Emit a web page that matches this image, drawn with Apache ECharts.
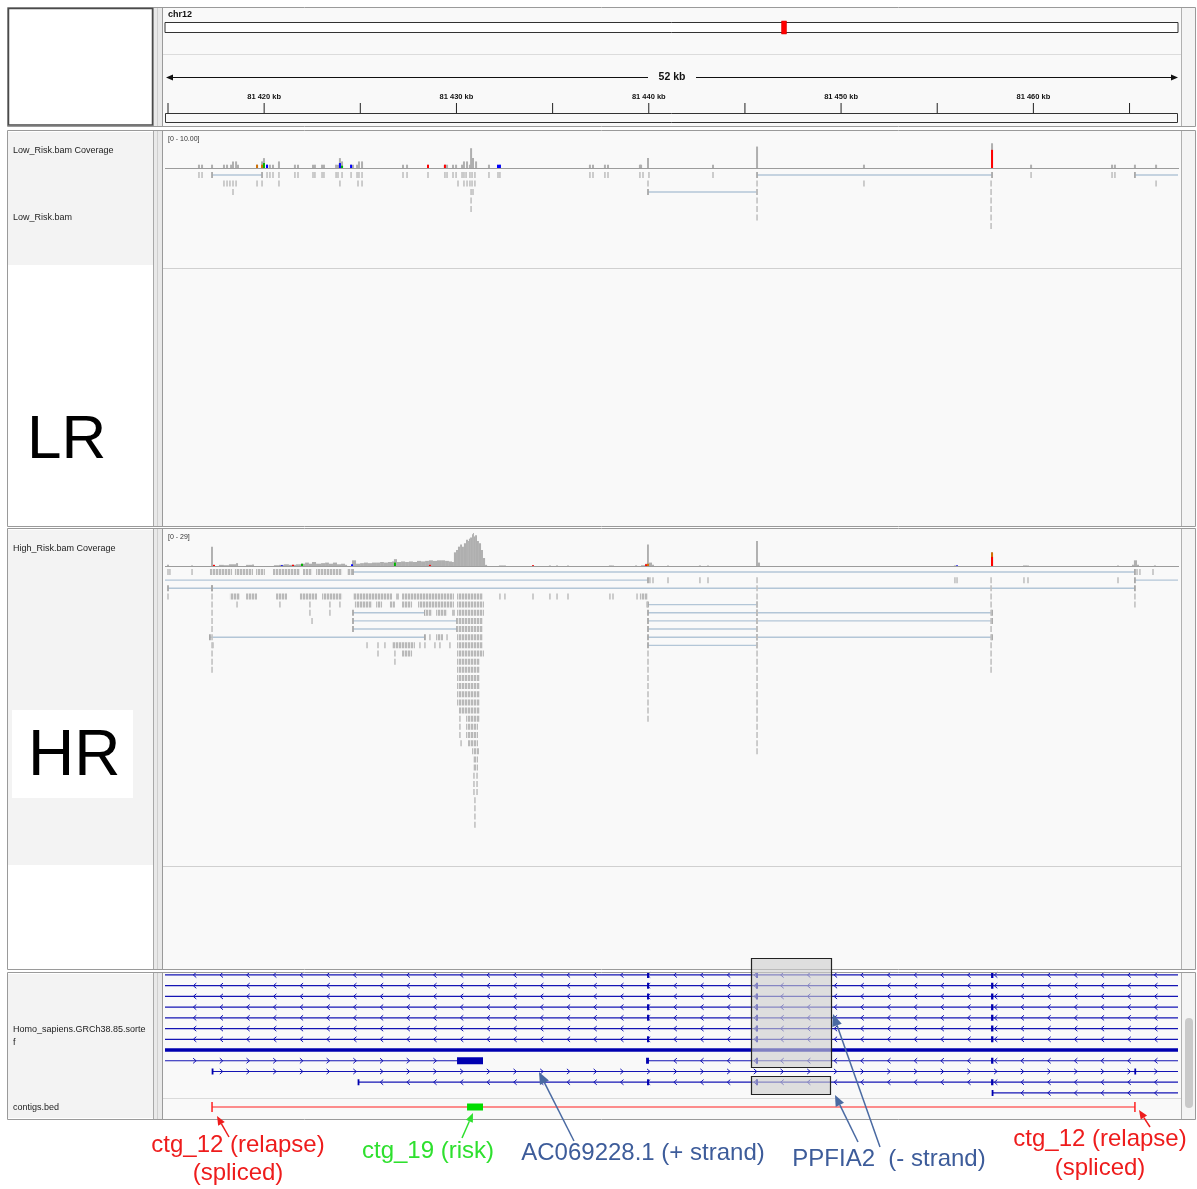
<!DOCTYPE html>
<html><head><meta charset="utf-8">
<script src="https://cdn.jsdelivr.net/npm/echarts@6/dist/echarts.min.js"></script>
<style>html,body{margin:0;padding:0;background:#fff}#c{width:1197px;height:1189px}</style>
</head><body><div id="c"></div><script>
// ---------------- DATA (genomic positions in kb, chr12) ----------------
var X_MIN = 81414.844, X_MAX = 81467.52, CHR_LEN = 133275;
var chrBounds = [[0, CHR_LEN]];
var currentView = [[X_MIN, X_MAX]];
var rulerTicks = [81415,81420,81425,81430,81435,81440,81445,81450,81455,81460,81465];
var rulerLabels = ['','81 420 kb','','81 430 kb','','81 440 kb','','81 450 kb','','81 460 kb',''];
var spanLabel = '52 kb';

// Low risk coverage [kb, depth]
var lrCoverage = [[81416.61,1],[81416.77,1],[81417.29,1],[81417.91,1],[81418.07,1],[81418.28,1],[81418.38,2],[81418.54,2],[81418.64,1],[81419.63,1],[81419.89,2],[81419.99,3],[81420.15,1],[81420.30,1],[81420.46,1],[81420.77,2],[81421.60,1],[81421.76,1],[81422.54,1],[81422.64,1],[81423.01,1],[81423.11,1],[81423.74,1],[81423.84,1],[81423.94,3],[81424.05,2],[81424.52,1],[81424.62,1],[81424.83,1],[81424.93,2],[81425.09,2],[81427.22,1],[81427.43,1],[81428.52,1],[81429.40,1],[81429.51,1],[81429.82,1],[81429.98,1],[81430.29,1],[81430.39,2],[81430.55,2],[81430.70,1],[81430.76,6],[81430.86,3],[81431.02,2],[81431.69,1],[81432.16,1],[81432.26,1],[81436.94,1],[81437.10,1],[81437.72,1],[81437.88,1],[81439.54,1],[81439.60,1],[81439.96,3],[81443.34,1],[81445.63,6.5],[81451.19,1],[81457.85,7.5],[81459.88,1],[81464.09,1],[81464.24,1],[81465.28,1],[81466.38,1]];
// mismatch [kb, depth, base 0=A 1=C 2=G 3=T]
var lrMismatch = [[81419.63,1,2],[81419.89,1,2],[81419.99,1.5,0],[81420.15,1,1],[81423.94,1.5,1],[81424.05,0.7,0],[81424.52,1,1],[81428.52,1,3],[81429.40,1,3],[81432.16,1,1],[81432.26,1,1],[81457.85,5.5,3]];
// single reads [kb, row]
var lrPoints = [[81416.61,0],[81416.77,0],[81420.15,0],[81420.30,0],[81420.46,0],[81420.77,0],[81421.60,0],[81421.76,0],[81422.54,0],[81422.64,0],[81423.01,0],[81423.11,0],[81423.74,0],[81423.84,0],[81424.05,0],[81424.52,0],[81424.83,0],[81424.93,0],[81425.09,0],[81427.22,0],[81427.43,0],[81428.52,0],[81429.40,0],[81429.51,0],[81429.82,0],[81429.98,0],[81430.29,0],[81430.39,0],[81430.50,0],[81430.70,0],[81430.81,0],[81430.96,0],[81431.69,0],[81432.16,0],[81432.26,0],[81436.94,0],[81437.10,0],[81437.72,0],[81437.88,0],[81439.54,0],[81439.70,0],[81440.01,0],[81443.34,0],[81459.88,0],[81464.09,0],[81464.24,0],
[81417.91,1],[81418.07,1],[81418.22,1],[81418.38,1],[81418.54,1],[81419.63,1],[81419.89,1],[81420.77,1],[81423.94,1],[81424.88,1],[81425.09,1],[81430.08,1],[81430.39,1],[81430.55,1],[81430.70,1],[81430.81,1],[81430.96,1],[81439.96,1],[81451.19,1],[81466.38,1],
[81418.38,2],[81430.86,2]];
// reads stacked at one position [kb, firstRow, lastRow]
var lrStacks = [[81430.76,2,4],[81445.63,1,5],[81457.80,1,6]];
// split reads [startKb, endKb, row]
var lrSplits = [[81417.29,81419.89,0],[81445.63,81457.85,0],[81465.28,81468.0,0],[81439.96,81445.63,2]];

// High risk coverage [kb, depth]
var hrCoverage = [[81415.00,1],[81416.25,0.5],[81417.29,17],[81417.39,1],[81417.70,1],[81417.96,0.7],[81418.22,1.5],[81418.38,1.5],[81418.59,2.5],[81419.11,1],[81419.26,1],[81419.42,1.3],[81420.56,0.7],[81420.82,1],[81421.08,1.5],[81421.34,1],[81421.50,1],[81421.71,1.5],[81421.86,1.5],[81421.97,2],[81422.18,3],[81422.38,2],[81422.54,3.5],[81422.75,2],[81423.01,2.5],[81423.22,3],[81423.42,2],[81423.63,3],[81423.84,1.5],[81424.05,2],[81424.26,1],[81424.62,5],[81424.83,2],[81425.04,2.5],[81425.24,3],[81425.45,2.5],[81425.66,3],[81425.87,3],[81426.08,3.5],[81426.28,3],[81426.49,3.5],[81426.70,4],[81426.80,6],[81426.96,3.5],[81427.17,4],[81427.38,3.5],[81427.58,4],[81427.79,3.5],[81428.00,4.5],[81428.21,4],[81428.42,4.5],[81428.62,5],[81428.83,4.5],[81429.04,5],[81429.25,5],[81429.46,4.5],[81429.66,4],[81429.82,3.5],[81429.92,12],[81430.03,14],[81430.13,17],[81430.24,19],[81430.34,17],[81430.44,20],[81430.55,23],[81430.65,22],[81430.70,24],[81430.76,25],[81430.86,28],[81430.91,29],[81430.96,26],[81431.02,27],[81431.12,22],[81431.22,20],[81431.33,14],[81431.43,7],[81431.54,1],[81432.26,0.5],[81432.52,0.5],[81433.98,0.7],[81434.86,0.5],[81435.23,0.5],[81435.80,0.5],[81437.98,0.5],[81438.14,0.5],[81439.34,0.5],[81439.65,0.7],[81439.86,2],[81439.96,19],[81440.06,3],[81440.22,1],[81441.00,0.5],[81442.66,0.5],[81443.08,0.5],[81445.63,22],[81445.73,3],[81455.92,0.5],[81456.03,0.5],[81457.85,12],[81459.51,0.5],[81459.72,0.5],[81464.40,0.5],[81465.18,1],[81465.28,5],[81465.44,1],[81466.32,0.5]];
var hrMismatch = [[81417.39,1,3],[81420.92,0.7,1],[81421.50,1,3],[81421.97,2,0],[81424.57,1.5,1],[81426.80,3,0],[81428.62,1,3],[81433.98,0.7,3],[81439.86,1.5,3],[81439.96,2,2],[81456.03,0.5,1],[81457.85,12,2],[81457.85,8,3]];
// runs of densely packed reads [startKb, endKb, row]
var hrBlocks = [[81417.18,81418.33,0],[81418.48,81419.42,0],[81419.58,81420.04,0],[81420.46,81421.86,0],[81422.02,81422.49,0],[81422.70,81424.05,0],[81424.31,81424.57,0],
[81418.22,81418.74,3],[81419.06,81419.63,3],[81420.62,81421.19,3],[81421.86,81422.75,3],[81423.01,81424.05,3],[81424.62,81426.65,3],[81426.86,81427.01,3],[81427.17,81429.87,3],[81430.03,81431.38,3],[81439.54,81439.96,3],
[81424.72,81425.61,4],[81425.82,81426.13,4],[81426.54,81426.80,4],[81427.17,81427.69,4],[81428.00,81429.87,4],[81430.03,81431.43,4],
[81428.36,81428.73,5],[81428.94,81429.51,5],[81429.77,81429.92,5],[81430.03,81431.43,5],
[81430.03,81431.38,6],[81430.03,81431.38,7],
[81428.94,81429.30,8],[81430.03,81431.38,8],
[81426.65,81427.84,9],[81430.03,81431.38,9],
[81427.17,81427.69,10],[81430.03,81431.43,10],
[81430.03,81431.22,11],[81430.03,81431.22,12],[81430.03,81431.22,13],[81430.03,81431.22,14],[81430.03,81431.22,15],[81430.03,81431.22,16],
[81430.13,81431.22,17],[81430.50,81431.22,18],[81430.50,81431.12,19],[81430.50,81431.12,20],[81430.60,81431.12,21],
[81430.81,81431.17,22],[81430.86,81431.12,23],[81430.86,81431.12,24]];
var hrPoints = [[81415.00,0],[81415.10,0],[81416.25,0],[81465.39,0],[81465.54,0],[81466.22,0],
[81440.06,1],[81440.22,1],[81441.00,1],[81442.66,1],[81443.08,1],[81455.92,1],[81456.03,1],[81459.51,1],[81459.72,1],[81464.40,1],
[81415.00,3],[81432.26,3],[81432.52,3],[81433.98,3],[81434.86,3],[81435.23,3],[81435.80,3],[81437.98,3],[81438.14,3],[81439.39,3],
[81418.59,4],[81420.82,4],[81422.38,4],[81423.42,4],[81423.94,4],[81439.91,4],
[81422.38,5],[81423.42,5],[81422.49,6],[81428.62,8],[81429.51,8],
[81417.34,9],[81425.35,9],[81425.92,9],[81426.28,9],[81428.10,9],[81428.36,9],[81428.88,9],[81429.14,9],[81429.66,9],
[81425.92,10],[81426.80,10],[81426.80,11],
[81430.18,18],[81430.18,19],[81430.18,20],[81430.24,21],
[81430.91,25],[81431.07,25],[81430.91,26],[81431.07,26],[81430.91,27],[81431.07,27],
[81430.96,28],[81430.96,29],[81430.96,30],[81430.96,31]];
var hrStacks = [[81417.29,3,12],[81439.96,10,18],[81445.63,1,22],[81457.80,1,12],[81465.28,3,4]];
var hrSplits = [[81424.62,81465.28,0],[81414.6,81439.96,1],[81465.28,81468.0,1],[81415.00,81417.29,2],[81417.29,81465.28,2],[81439.96,81445.63,4],[81424.62,81428.36,5],[81439.96,81445.63,5],[81445.63,81457.85,5],[81424.62,81430.03,6],[81439.96,81445.63,6],[81445.63,81457.85,6],[81424.62,81430.03,7],[81439.96,81445.63,7],[81417.18,81428.36,8],[81439.96,81445.63,8],[81445.63,81457.85,8],[81439.96,81445.63,9]];

// gene annotation: lines [row, startKb, endKb, strand(+1/-1/0)], exons [row, startKb, endKb]
var geneLines = [[0,81414.6,81468,-1],[1,81414.6,81468,-1],[2,81414.6,81468,-1],[3,81414.6,81468,-1],[4,81414.6,81468,-1],[5,81414.6,81468,-1],[6,81414.6,81468,-1],[7,81414.6,81468,0],[8,81414.6,81431.38,1],[8,81439.91,81468,-1],[9,81417.29,81468,1],[10,81424.88,81468,-1],[11,81457.85,81468,-1]];
var geneExons = [[0,81439.91,81440.01],[1,81439.91,81440.01],[2,81439.91,81440.01],[3,81439.91,81440.01],[4,81439.91,81440.01],[6,81439.91,81440.01],
[0,81445.58,81445.68],[1,81445.58,81445.68],[2,81445.58,81445.68],[3,81445.58,81445.68],[4,81445.58,81445.68],[5,81445.58,81445.68],[6,81445.58,81445.68],
[0,81457.80,81457.92],[1,81457.80,81457.92],[2,81457.80,81457.92],[3,81457.80,81457.92],[4,81457.80,81457.92],[5,81457.80,81457.92],[6,81457.80,81457.92],
[8,81430.03,81431.38],[8,81439.86,81440.01],[8,81445.58,81445.68],[8,81457.80,81457.92],
[9,81417.27,81417.31],[9,81465.25,81465.31],
[10,81424.86,81424.90],[10,81439.91,81440.01],[10,81445.58,81445.68],[10,81457.80,81457.92],
[11,81457.83,81457.88]];
// contigs.bed [startKb, endKb, kind 0=spliced contig line, 1=block]
var bedContigs = [[81417.29,81465.28,0],[81430.55,81431.38,1]];

// ---------------- STYLE ----------------
var READ = '#c1c1c1', READ_DARK = '#a8a8a8', SPLIT = '#b3c6d7', COV = '#afafaf', GENE = '#1414b4';
var baseColors = ['#00b400','#0000ff','#d17105','#ff0000'];
var FONT = '"Liberation Sans", Arial, Helvetica, sans-serif';
var pc = document.createElement('canvas'); pc.width = 3; pc.height = 8;
var pctx = pc.getContext('2d'); pctx.fillStyle = '#e6e6e6'; pctx.fillRect(0,0,3,8); pctx.fillStyle = '#b9b9b9'; pctx.fillRect(0,0,2,8);
var readPattern = {image: pc, repeat: 'repeat'};

function covRender(data, stepFill){
  return function(params, api){
    var i = params.dataIndex, x = api.value(0), d = api.value(1);
    var p0 = api.coord([x, 0]), p1 = api.coord([x, d]);
    var w = 2;
    if (stepFill && i + 1 < data.length){
      var g = api.coord([data[i+1][0], 0])[0] - p0[0];
      if (g > 0 && g <= 5.2) w = g;
    }
    return {type:'rect', shape:{x:p0[0]-1, y:p1[1], width:w, height:Math.max(0.6, p0[1]-p1[1])}, style:{fill:COV}};
  };
}
function misRender(params, api){
  var x = api.value(0), d = api.value(1), b = api.value(2);
  var p0 = api.coord([x, 0]), p1 = api.coord([x, d]);
  return {type:'rect', shape:{x:p0[0]-1, y:p1[1], width:2, height:Math.max(0.6,p0[1]-p1[1])}, style:{fill:baseColors[b]}};
}
function pointRender(h){
  return function(params, api){
    var p = api.coord([api.value(0), api.value(1)]);
    return {type:'rect', shape:{x:p[0]-0.8, y:p[1]-h/2, width:1.6, height:h}, style:{fill:READ}};
  };
}
function stackRender(h){
  return function(params, api){
    var x = api.value(0), r0 = api.value(1), r1 = api.value(2), ch = [];
    for (var r = r0; r <= r1; r++){
      var p = api.coord([x, r]);
      ch.push({type:'rect', shape:{x:p[0]-0.8, y:p[1]-h/2, width:1.6, height:h}, style:{fill:READ}});
    }
    return {type:'group', children:ch};
  };
}
function blockRender(h){
  return function(params, api){
    var a = api.coord([api.value(0), api.value(2)]), b = api.coord([api.value(1), api.value(2)]);
    var w = Math.max(1.6, b[0]-a[0]);
    return {type:'rect', shape:{x:a[0], y:a[1]-h/2, width:w, height:h}, style:{fill: w > 3 ? readPattern : READ}};
  };
}
function splitRender(h){
  return function(params, api){
    var a = api.coord([api.value(0), api.value(2)]), b = api.coord([api.value(1), api.value(2)]);
    return {type:'group', children:[
      {type:'line', shape:{x1:a[0], y1:a[1], x2:b[0], y2:b[1]}, style:{stroke:SPLIT, lineWidth:1.4}},
      {type:'rect', shape:{x:a[0]-0.9, y:a[1]-h/2, width:1.8, height:h}, style:{fill:READ_DARK}},
      {type:'rect', shape:{x:b[0]-0.9, y:b[1]-h/2, width:1.8, height:h}, style:{fill:READ_DARK}}
    ]};
  };
}
function geneLineRender(params, api){
  var r = api.value(0), s = api.value(1), e = api.value(2), st = api.value(3);
  var cs = params.coordSys;
  var a = api.coord([s, r]), b = api.coord([e, r]);
  var x0 = Math.max(a[0], cs.x), x1 = Math.min(b[0], cs.x + cs.width), y = a[1];
  var ch = [{type:'line', shape:{x1:x0, y1:y, x2:x1, y2:y}, style:{stroke: st === 0 ? '#0000b0' : GENE, lineWidth: st === 0 ? 3.4 : 1.2}}];
  if (st !== 0){
    for (var x = cs.x + 3; x <= x1 - 3; x += 26.7){
      if (x < x0 + 4) continue;
      ch.push({type:'polyline', shape:{points:[[x - 1.6*st, y - 2.6],[x + 1.4*st, y],[x - 1.6*st, y + 2.6]]}, style:{stroke:GENE, lineWidth:1, fill:null}});
    }
  }
  return {type:'group', children:ch};
}
function exonRender(params, api){
  var r = api.value(0);
  var a = api.coord([api.value(1), r]), b = api.coord([api.value(2), r]);
  var w = Math.max(1.8, b[0]-a[0]);
  var h = w > 6 ? 7 : 6;
  return {type:'rect', shape:{x:a[0], y:a[1]-h/2, width:w, height:h}, style:{fill:'#0000b0'}};
}
function bedRender(params, api){
  var a = api.coord([api.value(0), 0]), b = api.coord([api.value(1), 0]), k = api.value(2);
  if (k === 0){
    return {type:'group', children:[
      {type:'line', shape:{x1:a[0], y1:a[1], x2:b[0], y2:b[1]}, style:{stroke:'#ff2020', lineWidth:1.2}},
      {type:'line', shape:{x1:a[0], y1:a[1]-5, x2:a[0], y2:a[1]+5}, style:{stroke:'#ff2020', lineWidth:1.5}},
      {type:'line', shape:{x1:b[0], y1:b[1]-5, x2:b[0], y2:b[1]+5}, style:{stroke:'#ff2020', lineWidth:1.5}}
    ]};
  }
  return {type:'rect', shape:{x:a[0], y:a[1]-3.5, width:b[0]-a[0], height:7}, style:{fill:'#00dd00'}};
}
function chrRender(params, api){
  var a = api.coord([api.value(0), 0]), b = api.coord([api.value(1), 0]);
  return {type:'rect', shape:{x:a[0], y:params.coordSys.y + 1.5, width:b[0]-a[0], height:10}, style:{fill:'#ffffff', stroke:'#333', lineWidth:1}};
}
function viewRender(params, api){
  var a = api.coord([api.value(0), 0]), b = api.coord([api.value(1), 0]);
  var w = Math.max(5, b[0]-a[0]), cx = (a[0]+b[0])/2;
  return {type:'rect', shape:{x:cx - w/2, y:params.coordSys.y, width:w, height:13}, style:{fill:'#ff0000', stroke:'#d00000', lineWidth:0.5}};
}
function rulerRender(params, api){
  var p = api.coord([api.value(0), 0]);
  var cs = params.coordSys, yb = cs.y + cs.height;
  var ch = [{type:'line', shape:{x1:p[0], y1:yb-10, x2:p[0], y2:yb}, style:{stroke:'#222', lineWidth:1}}];
  var lab = rulerLabels[params.dataIndex];
  if (lab) ch.push({type:'text', style:{text:lab, x:p[0], y:yb-16, align:'center', textAlign:'center', verticalAlign:'middle', textVerticalAlign:'middle', font:'bold 7.5px ' + FONT, fill:'#111'}});
  return {type:'group', children:ch};
}

// ---------------- LAYOUT ----------------
var L = 165, R = 19;
var grids = [
  {left:L, right:R, top:21, height:13},
  {left:L, right:R, top:95, height:18},
  {left:L, right:R, top:135, height:33},
  {left:L, right:R, top:170.75, height:93.5},
  {left:L, right:R, top:533, height:33},
  {left:L, right:R, top:567.9, height:293.4},
  {left:L, right:R, top:969.6, height:128.7},
  {left:L, right:R, top:1101, height:12}
];
var yRanges = [[0,1,false],[0,1,false],[0,10,false],[-0.5,10.5,true],[0,29,false],[-0.5,35.5,true],[-0.5,11.5,true],[-0.5,0.5,false]];
var xAxes = grids.map(function(g, i){ return {type:'value', gridIndex:i, min: i === 0 ? 0 : X_MIN, max: i === 0 ? CHR_LEN : X_MAX, show:false}; });
var yAxes = yRanges.map(function(r, i){ return {type:'value', gridIndex:i, min:r[0], max:r[1], inverse:r[2], show:false}; });
function cs(idx, data, render, clip){
  return {type:'custom', coordinateSystem:'cartesian2d', xAxisIndex:idx, yAxisIndex:idx, data:data, renderItem:render, clip: clip !== false, silent:true, animation:false, z:2};
}
var series = [
  cs(0, chrBounds, chrRender, false), cs(0, currentView, viewRender, false),
  cs(1, rulerTicks.map(function(t){ return [t, 0]; }), rulerRender, false),
  cs(2, lrCoverage, covRender(lrCoverage, false)), cs(2, lrMismatch, misRender),
  cs(3, lrSplits, splitRender(6)), cs(3, lrPoints, pointRender(6)), cs(3, lrStacks, stackRender(6)),
  cs(4, hrCoverage, covRender(hrCoverage, true)), cs(4, hrMismatch, misRender),
  cs(5, hrSplits, splitRender(6)), cs(5, hrBlocks, blockRender(6)), cs(5, hrPoints, pointRender(6)), cs(5, hrStacks, stackRender(6)),
  cs(6, geneLines, geneLineRender), cs(6, geneExons, exonRender),
  cs(7, bedContigs, bedRender)
];

// ---------------- FRAME / ANNOTATION GRAPHICS ----------------
var G = [];
function rect(x,y,w,h,fill,stroke,lw,z){ G.push({type:'rect', shape:{x:x,y:y,width:w,height:h}, style:{fill:fill||'none', stroke:stroke||null, lineWidth:lw||1}, z:z||0, silent:true}); }
function line(x1,y1,x2,y2,stroke,lw,z){ G.push({type:'line', shape:{x1:x1,y1:y1,x2:x2,y2:y2}, style:{stroke:stroke, lineWidth:lw||1}, z:z||1, silent:true}); }
function text(t,x,y,font,fill,align,z){ G.push({type:'text', style:{text:t, x:x, y:y, font:font, fill:fill, align:align||'left', textAlign:align||'left', verticalAlign:'middle', textVerticalAlign:'middle'}, z:z||1, silent:true}); }
function arrow(x1,y1,x2,y2,color,w,hl){
  var ang = Math.atan2(y2-y1, x2-x1), hw = hl*0.42;
  var bx = x2 - hl*Math.cos(ang), by = y2 - hl*Math.sin(ang);
  var px = -Math.sin(ang)*hw, py = Math.cos(ang)*hw;
  G.push({type:'line', shape:{x1:x1,y1:y1,x2:bx,y2:by}, style:{stroke:color, lineWidth:w}, z:101, silent:true});
  G.push({type:'polygon', shape:{points:[[x2,y2],[bx+px,by+py],[bx-px,by-py]]}, style:{fill:color}, z:101, silent:true});
}
var panels = [[8,126],[131,526],[529,969],[973,1119]];
panels.forEach(function(p){
  var y0 = p[0], h = p[1]-p[0];
  rect(8, y0, 145, h, '#ffffff');
  rect(153, y0, 10, h, '#e9e9e9');
  rect(163, y0, 1018, h, '#f9f9f9');
  rect(1181, y0, 14, h, '#f4f4f4');
});
// name-panel shading
rect(8, 132, 145, 133, '#f3f3f3');
rect(8, 530, 145, 335, '#f3f3f3');
rect(12, 710, 121, 88, '#ffffff');
rect(8, 974, 145, 144, '#f3f3f3');
panels.forEach(function(p){
  var y0 = p[0], y1 = p[1];
  rect(7.5, y0-0.5, 1188, y1-y0+1, 'none', '#9a9a9a', 1, 3);
  line(153.5, y0, 153.5, y1, '#a8a8a8', 1, 3);
  line(157.5, y0, 157.5, y1, '#cfcfcf', 1, 3);
  line(162.5, y0, 162.5, y1, '#9a9a9a', 1, 3);
  line(1181.5, y0, 1181.5, y1, '#b0b0b0', 1, 3);
});
rect(8.5, 8.5, 144, 116.5, 'none', '#4a4a4a', 1.5, 3);
// top panel details
text('chr12', 168, 15, 'bold 9px ' + FONT, '#111');
line(163, 54.5, 1181, 54.5, '#dcdcdc', 1, 1);
line(172, 77.5, 648, 77.5, '#111', 1, 3);
line(696, 77.5, 1172, 77.5, '#111', 1, 3);
G.push({type:'polygon', shape:{points:[[166,77.5],[173,74.5],[173,80.5]]}, style:{fill:'#111'}, z:3, silent:true});
G.push({type:'polygon', shape:{points:[[1178,77.5],[1171,74.5],[1171,80.5]]}, style:{fill:'#111'}, z:3, silent:true});
text(spanLabel, 672, 77.5, 'bold 10.5px ' + FONT, '#111', 'center', 3);
rect(165.5, 113.5, 1012, 9, '#f9f9f9', '#333', 1, 3);
// LR panel
text('Low_Risk.bam Coverage', 13, 151, '9px ' + FONT, '#222');
text('Low_Risk.bam', 13, 218, '9px ' + FONT, '#222');
text('[0 - 10.00]', 168, 139, '7px ' + FONT, '#333');
line(165, 168.5, 1179, 168.5, '#9c9c9c', 1, 1);
line(163, 268.5, 1181, 268.5, '#d0d0d0', 1, 1);
text('LR', 27, 441, '62px ' + FONT, '#000');
// HR panel
text('High_Risk.bam Coverage', 13, 549, '9px ' + FONT, '#222');
text('[0 - 29]', 168, 537, '7px ' + FONT, '#333');
line(165, 566.5, 1179, 566.5, '#9c9c9c', 1, 1);
line(163, 866.5, 1181, 866.5, '#d0d0d0', 1, 1);
text('HR', 28, 757, '64px ' + FONT, '#000');
// gene panel
text('Homo_sapiens.GRCh38.85.sorte', 13, 1030, '9px ' + FONT, '#222');
text('f', 13, 1043, '9px ' + FONT, '#222');
text('contigs.bed', 13, 1108, '9px ' + FONT, '#222');
line(163, 1098.5, 1181, 1098.5, '#dadada', 1, 1);
G.push({type:'rect', shape:{x:1185, y:1018, width:8, height:90, r:4}, style:{fill:'#c9c9c9'}, z:3, silent:true});
// highlight boxes
rect(751.5, 958.5, 80, 109, 'rgba(205,205,205,0.62)', '#222', 1.2, 100);
rect(751.5, 1076.5, 79, 18, 'rgba(205,205,205,0.62)', '#222', 1.2, 100);
// annotations
var RED = '#ee1c1c', GREEN = '#2ee02e', BLUE = '#3d5c9a';
text('ctg_12 (relapse)', 238, 1145, '24px ' + FONT, RED, 'center', 101);
text('(spliced)', 238, 1173, '24px ' + FONT, RED, 'center', 101);
text('ctg_19 (risk)', 428, 1151, '24px ' + FONT, GREEN, 'center', 101);
text('AC069228.1 (+ strand)', 643, 1153, '24px ' + FONT, BLUE, 'center', 101);
text('PPFIA2  (- strand)', 889, 1159, '24px ' + FONT, BLUE, 'center', 101);
text('ctg_12 (relapse)', 1100, 1139, '24px ' + FONT, RED, 'center', 101);
text('(spliced)', 1100, 1168, '24px ' + FONT, RED, 'center', 101);
arrow(229, 1137, 217, 1116, RED, 1.5, 9);
arrow(462, 1138, 473, 1113, GREEN, 1.5, 9);
arrow(574, 1141, 539, 1072, '#4a6aa2', 1.5, 12);
arrow(880, 1147, 833, 1014, '#4a6aa2', 1.5, 12);
arrow(858, 1142, 835, 1095, '#4a6aa2', 1.5, 11);
arrow(1150, 1127, 1139, 1110, RED, 1.5, 9);

var chart = echarts.init(document.getElementById('c'), null, {renderer:'canvas', width:1197, height:1189});
chart.setOption({
  backgroundColor:'#ffffff',
  animation:false,
  grid: grids,
  xAxis: xAxes,
  yAxis: yAxes,
  series: series,
  graphic: {elements: G}
});
</script></body></html>
